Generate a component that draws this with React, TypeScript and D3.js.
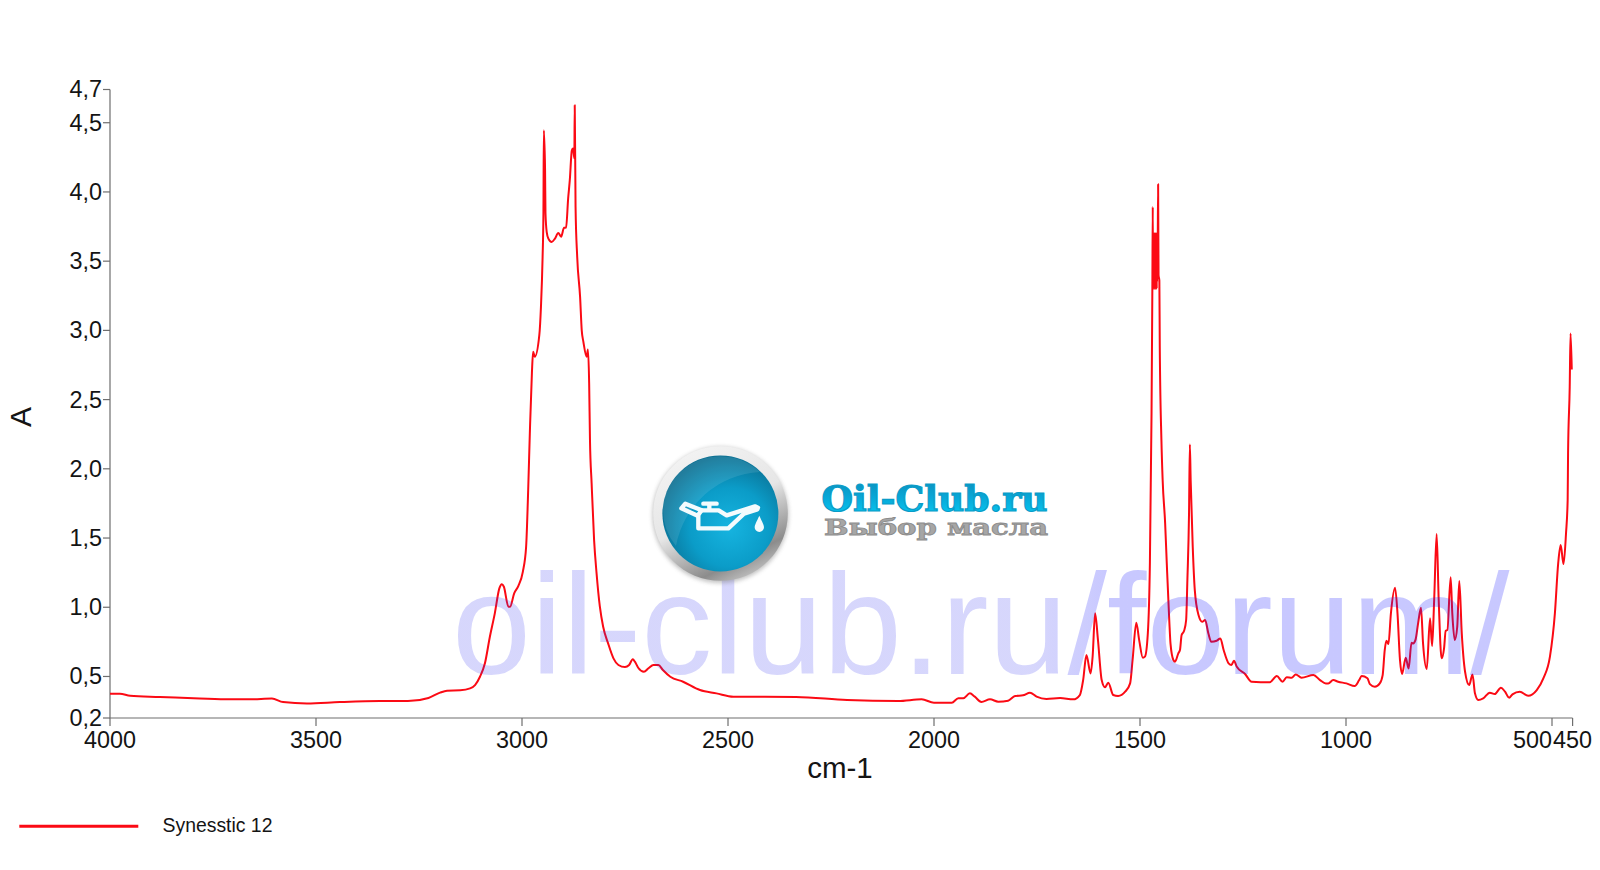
import React from "react";
import * as d3 from "d3";

// [wavenumber cm-1, absorbance]
const highBaseline: [number, number][] = [
  [4000,.375],[3976,.375],[3951,.36],[3879,.352],[3782,.341],[3709,.335],[3660,.335],[3607,.341],[3580,.315],[3522,.305],
  [3442,.315],[3345,.322],[3277,.322],[3227,.345],[3199,.383],[3182,.397],[3150,.40],[3126,.414],[3114,.438],[3102,.498],
];
const chBand: [number, number][] = [
  [3090,.595],[3078,.787],[3066,.956],[3055,1.136],[3049,1.167],[3044,1.148],[3033,1.004],[3029,1.004],[3019,1.10],[3009,1.153],
  [2998,1.256],[2990,1.437],[2985,1.846],[2981,2.256],[2976,2.689],[2973,2.845],[2969,2.809],[2958,2.965],[2954,3.17],[2950,3.53],
  [2948,3.846],[2947,4.445],[2944,4.157],[2943,3.846],[2940,3.71],[2936,3.663],[2928,3.639],[2920,3.663],[2912,3.704],[2905,3.677],
  [2898,3.741],[2893,3.743],[2888,3.952],[2884,4.085],[2879,4.30],[2876,4.313],[2873,4.243],[2872,4.626],[2870,3.892],[2866,3.53],
  [2859,3.242],[2855,3.0],[2851,2.917],[2843,2.809],[2840,2.862],[2837,2.618],[2835,2.207],[2831,1.895],[2825,1.485],[2819,1.245],
  [2811,1.004],[2803,.859],[2791,.739],[2778,.631],[2766,.583],[2750,.568],[2740,.583],[2731,.624],[2726,.607],[2718,.563],
  [2704,.534],[2693,.559],[2681,.583],[2669,.583],[2658,.547],[2640,.498],[2609,.462],[2568,.402],[2528,.378],
];
const midBaseline: [number, number][] = [
  [2487,.354],[2335,.352],[2211,.33],[2087,.323],[2030,.335],[2000,.31],[1957,.31],[1941,.342],[1929,.342],[1913,.378],
  [1901,.354],[1885,.316],[1864,.335],[1844,.318],[1820,.325],[1803,.359],[1784,.364],[1767,.383],[1751,.354],[1727,.337],
  [1694,.344],[1662,.335],
];
const fingerprintA: [number, number][] = [
  [1646,.366],[1638,.474],[1630,.655],[1620,.522],[1615,.643],[1609,.956],[1602,.763],[1593,.474],[1585,.422],[1577,.455],
  [1565,.366],[1553,.359],[1536,.39],[1524,.45],[1518,.619],[1509,.888],[1502,.763],[1493,.635],[1488,.643],[1481,.811],
  [1476,1.317],[1472,2.4],[1470,3.31],[1469,3.892],[1468.5,3.31],[1468,3.68],[1467.5,3.32],[1467,3.68],[1466.5,3.3],[1466,3.7],
  [1465.5,3.3],[1465,3.7],[1464.5,3.32],[1464,3.7],[1463.5,3.3],[1463,3.7],[1462.5,3.32],[1462,3.7],[1461.5,3.3],[1461,3.7],
  [1460.5,3.32],[1460,3.7],[1459.5,3.3],[1459,3.68],[1458.5,3.35],[1458,3.65],[1457.5,3.4],[1457,3.6],[1456,4.056],[1455,3.4],
  [1453,3.36],[1452,2.88],[1448,2.207],[1445,1.918],[1439,1.608],[1435,1.317],[1429,.908],[1426,.739],[1419,.619],[1415,.607],
  [1407,.667],[1403,.691],[1399,.799],[1393,.83],[1388,.908],[1385,1.196],[1381,1.68],[1379,2.176],[1377,1.918],[1372,1.437],
  [1367,1.124],[1358,.944],[1349,.895],[1342,.908],[1334,.811],[1327,.751],[1314,.758],[1305,.775],[1297,.691],[1285,.595],
  [1278,.583],[1272,.614],[1265,.57],[1245,.518],[1229,.462],[1185,.458],[1168,.503],[1154,.462],[1144,.494],[1132,.491],
  [1122,.515],[1108,.491],[1079,.51],[1063,.474],[1049,.45],[1043,.45],[1031,.474],[1019,.462],[999,.45],[979,.431],
  [968,.474],[962,.503],[948,.487],[942,.445],[930,.426],
];
const fingerprintB: [number, number][] = [
  [918,.45],[911,.51],[906,.691],[902,.758],[897,.734],[891,.956],[881,1.141],[875,.956],[869,.619],[864,.518],
  [855,.635],[848,.557],[841,.744],[837,.739],[831,.768],[825,.884],[818,.996],[813,.739],[804,.554],[796,.92],
  [791,.72],[786,1.052],[780,1.529],[775,1.052],[768,.631],[762,.703],[758,.83],[754,.835],[746,1.216],[742,.956],
  [736,.763],[730,.859],[725,1.189],[719,.811],[711,.534],[701,.438],[693,.515],[687,.378],[679,.33],[667,.342],
  [651,.383],[639,.373],[624,.419],[614,.39],[604,.347],[596,.371],[578,.39],[558,.361],[537,.402],[521,.487],
  [505,.643],[493,.956],[485,1.317],[479,1.449],[472,1.312],[466,1.533],[462,1.774],[461,2.113],[457,2.592],[455,2.978],[452,2.718],
];
const spectrum = [...highBaseline, ...chBand, ...midBaseline, ...fingerprintA, ...fingerprintB];

const xTickValues = [4000, 3500, 3000, 2500, 2000, 1500, 1000, 500, 450];
const yTickValues = [0.2, 0.5, 1, 1.5, 2, 2.5, 3, 3.5, 4, 4.5];
const yTopValue = 4.74;
const yTopLabel = "4,7";
const seriesName = "Synesstic 12";
const xTitle = "cm-1";
const yTitle = "A";
const watermark = "oil-club.ru/forum/";
const logoTitle = "Oil-Club.ru";
const logoSubtitle = "Выбор масла";

const sans = "'Liberation Sans', Arial, sans-serif";
const ink = "#141414";
const axisColor = "#6e6e6e";

export default function App() {
  const x = d3.scaleLinear().domain([4000, 450]).range([110, 1572.6]);
  const y = d3.scaleLinear().domain([0.2, yTopValue]).range([718, 89.5]);
  const line = d3
    .line<[number, number]>()
    .x((d) => x(d[0]))
    .y((d) => y(d[1]))
    .curve(d3.curveMonotoneX);
  const fmt = (v: number) => v.toFixed(1).replace(".", ",");
  return (
    <svg
      width={1600}
      height={870}
      style={{ position: "absolute", left: 0, top: 0, background: "#fff" }}
      fontFamily={sans}
    >
      <defs>
        <linearGradient id="wm" gradientUnits="userSpaceOnUse" x1="450" x2="1510" y1="0" y2="0">
          <stop offset="0" stopColor="#2a2af0" stopOpacity={0.19} />
          <stop offset="0.55" stopColor="#2a2af0" stopOpacity={0.19} />
          <stop offset="0.62" stopColor="#1a1aff" stopOpacity={0.24} />
          <stop offset="1" stopColor="#1a1aff" stopOpacity={0.24} />
        </linearGradient>
        <linearGradient id="ring" x1="0.2" y1="0" x2="0.7" y2="1">
          <stop offset="0" stopColor="#f4f4f4" />
          <stop offset="0.5" stopColor="#e6e6e6" />
          <stop offset="0.85" stopColor="#8c8c8c" />
          <stop offset="1" stopColor="#c4c4c4" />
        </linearGradient>
        <radialGradient id="ball" cx="0.58" cy="0.62" r="0.62">
          <stop offset="0" stopColor="#16b4e0" />
          <stop offset="0.55" stopColor="#0b9cc8" />
          <stop offset="1" stopColor="#0a6f92" />
        </radialGradient>
        <linearGradient id="oilText" x1="0" y1="0" x2="0" y2="1">
          <stop offset="0" stopColor="#0c8cb8" />
          <stop offset="0.5" stopColor="#08a8d8" />
          <stop offset="1" stopColor="#06cdf5" />
        </linearGradient>
        <filter id="soft" x="-10%" y="-10%" width="120%" height="120%">
          <feGaussianBlur stdDeviation="0.5" />
        </filter>
        <filter id="shadow" x="-10%" y="-10%" width="120%" height="120%">
          <feGaussianBlur stdDeviation="2" />
        </filter>
      </defs>

      {/* axes */}
      <g stroke={axisColor} strokeWidth={1.2} fill="none">
        <path d={`M${x(4000)},${y(yTopValue)}V${y(0.2)}H${x(450)}`} />
        {yTickValues.concat(yTopValue).map((v) => (
          <line key={v} x1={103} x2={110} y1={y(v)} y2={y(v)} />
        ))}
        {xTickValues.map((v) => (
          <line key={v} x1={x(v)} x2={x(v)} y1={718} y2={726} />
        ))}
      </g>
      <g fontSize={23.4} fill={ink}>
        {yTickValues.map((v) => (
          <text key={v} x={102} y={y(v) + 8} textAnchor="end">{fmt(v)}</text>
        ))}
        <text x={102} y={y(yTopValue) + 7.6} textAnchor="end">{yTopLabel}</text>
        {xTickValues.map((v) => (
          <text key={v} x={x(v)} y={748} textAnchor={v === 500 ? "end" : "middle"}>{v}</text>
        ))}
      </g>
      <text x={840} y={778} fontSize={29.5} fill={ink} textAnchor="middle">{xTitle}</text>
      <text transform="translate(30.5,417) rotate(-90)" fontSize={30} fill={ink} textAnchor="middle">{yTitle}</text>

      {/* spectrum */}
      <path d={line(spectrum) ?? ""} fill="none" stroke="#fb0a14" strokeWidth={2} strokeLinejoin="round" />

      {/* watermark */}
      <text x={452} y={674.3} fontSize={142} fill="url(#wm)">{watermark}</text>

      {/* logo */}
      <circle cx={720.5} cy={515} r={68} fill="#777" opacity={0.45} filter="url(#shadow)" />
      <circle cx={720.5} cy={513.5} r={67.3} fill="url(#ring)" />
      <circle cx={720.4} cy={513.4} r={58} fill="url(#ball)" />
      <path d="M664,500 A58,58 0 0 1 760,472 A90,90 0 0 0 676,546 A58,58 0 0 1 664,500Z" fill="#ffffff" opacity={0.1} />
      <g transform="translate(620,420) scale(0.3333)" filter="url(#soft)">
        <g fill="none" stroke="#f4fbfd" strokeWidth={13} strokeLinejoin="round" strokeLinecap="round">
          <path d="M184,265 L196,251 L245,271 L233,287 Z" />
          <path d="M245,271 H296 L320,286 L405,259 L414,263" />
          <path d="M235,288 V325 H325 L372,281 L412,268" />
          <path d="M268,268 V252 M250,251 H290" />
        </g>
        <path d="M418,287 C410,305 404,314 404,322 A14,14 0 1 0 432,322 C432,314 426,305 418,287Z" fill="#f4fbfd" />
      </g>
      <text
        x={821.5}
        y={510.7}
        fontFamily="'DejaVu Serif', serif"
        fontWeight={700}
        fontSize={36}
        fill="url(#oilText)"
        stroke="#0a9cc8"
        strokeWidth={1.2}
        textLength={226}
        lengthAdjust="spacingAndGlyphs"
      >
        {logoTitle}
      </text>
      <text
        x={824}
        y={535}
        fontFamily="'DejaVu Serif', serif"
        fontWeight={700}
        fontSize={22}
        fill="#a6a6a6"
        stroke="#8c8c8c"
        strokeWidth={0.8}
        textLength={224}
        lengthAdjust="spacingAndGlyphs"
      >
        {logoSubtitle}
      </text>

      {/* legend */}
      <line x1={19.3} x2={138.3} y1={826.3} y2={826.3} stroke="#fb0a14" strokeWidth={3} />
      <text x={162.5} y={831.7} fontSize={19.4} fill={ink}>{seriesName}</text>
    </svg>
  );
}
